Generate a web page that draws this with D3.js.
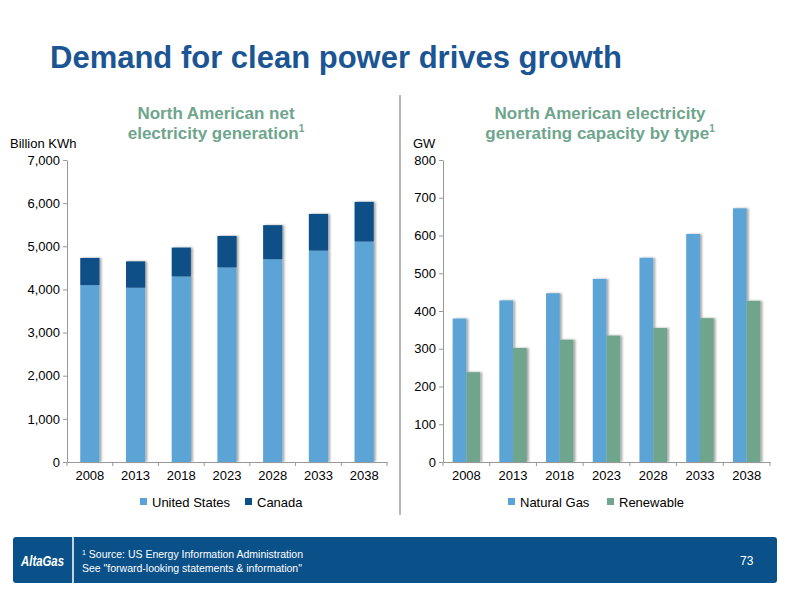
<!DOCTYPE html>
<html><head><meta charset="utf-8">
<script src="https://cdn.jsdelivr.net/npm/d3@7"></script>
<style>body{margin:0;background:#fff}text{font-family:"Liberation Sans",Arial,sans-serif}</style>
</head><body><svg id="c" width="800" height="600"></svg>
<script>
const years = ['2008','2013','2018','2023','2028','2033','2038']
const usGen = [4100, 4040, 4300, 4510, 4700, 4900, 5110]
const canadaGen = [630, 610, 670, 730, 790, 850, 920]
const natGas = [380, 428, 447, 485, 541, 604, 672]
const renewable = [238, 302, 324, 335, 355, 381, 427]
const genTicks = [0, 1000, 2000, 3000, 4000, 5000, 6000, 7000]
const capTicks = [0, 100, 200, 300, 400, 500, 600, 700, 800]

const svg = d3.select('#c')
const light = '#5ba3d6', dark = '#0b4f86', green = '#6fa58d', head = '#6fa58d'

svg.append('text').attr('x', 50).attr('y', 68).text('Demand for clean power drives growth')
  .attr('font-size', 31).attr('font-weight', 'bold').attr('fill', '#1b5593')

function subtitle(x, lines) {
  let t = svg.append('text').attr('text-anchor', 'middle').attr('font-size', 17)
    .attr('font-weight', 'bold').attr('fill', head)
  lines.forEach((l, i) => {
    t.append('tspan').attr('x', x).attr('y', 119 + i * 20).text(l)
  })
  t.append('tspan').text('1').attr('font-size', 10).attr('dy', -7)
}
subtitle(216, ['North American net', 'electricity generation'])
subtitle(600, ['North American electricity', 'generating capacity by type'])

svg.append('line').attr('x1', 400).attr('x2', 400).attr('y1', 95).attr('y2', 515)
  .attr('stroke', '#888').attr('stroke-width', 1.2)

let defs = svg.append('defs')
defs.append('filter').attr('id', 'sh').html('<feDropShadow dx="2" dy="0" stdDeviation="1" flood-color="#000" flood-opacity="0.35"/>')

function axes(x, y, ticks, fmt) {
  let ya = svg.append('g').attr('transform', `translate(${x.range()[0]},0)`)
    .call(d3.axisLeft(y).tickValues(ticks).tickFormat(fmt).tickSize(4).tickSizeOuter(0))
  let xa = svg.append('g').attr('transform', `translate(0,${y.range()[0]})`)
    .call(d3.axisBottom(x).tickSize(0).tickPadding(9))
  ;[ya, xa].forEach(a => {
    a.selectAll('path,line').attr('stroke', '#999')
    a.selectAll('text').attr('font-size', 13).attr('fill', '#000').attr('font-family', '"Liberation Sans",Arial,sans-serif')
  })
  // category tick marks
  let b = x.step()
  xa.selectAll('.sep').data(d3.range(years.length + 1)).enter().append('line')
    .attr('x1', i => x.range()[0] + i * b).attr('x2', i => x.range()[0] + i * b)
    .attr('y1', 0).attr('y2', 4).attr('stroke', '#999')
}

// left chart
const x1 = d3.scaleBand().domain(years).range([67, 387]).paddingInner(0.58).paddingOuter(0.29)
const y1 = d3.scaleLinear().domain([0, 7000]).range([462, 160])
const g1 = svg.append('g').attr('filter', 'url(#sh)')
g1.selectAll('.us').data(years).enter().append('rect')
  .attr('x', d => x1(d)).attr('width', x1.bandwidth())
  .attr('y', (d, i) => y1(usGen[i])).attr('height', (d, i) => y1(0) - y1(usGen[i])).attr('fill', light)
g1.selectAll('.ca').data(years).enter().append('rect')
  .attr('x', d => x1(d)).attr('width', x1.bandwidth())
  .attr('y', (d, i) => y1(usGen[i] + canadaGen[i])).attr('height', (d, i) => y1(usGen[i]) - y1(usGen[i] + canadaGen[i])).attr('fill', dark)
axes(x1, y1, genTicks, d3.format(','))
svg.append('text').attr('x', 10).attr('y', 148).text('Billion KWh').attr('font-size', 13)

// right chart
const x2 = d3.scaleBand().domain(years).range([443, 770])
const inner = d3.scaleBand().domain(['ng', 're']).range([0, x2.step()]).paddingInner(0).paddingOuter(0.7)
const y2 = d3.scaleLinear().domain([0, 800]).range([462, 160])
const g2 = svg.append('g').attr('filter', 'url(#sh)')
;[['ng', natGas, light], ['re', renewable, green]].forEach(([k, vals, col]) => {
  g2.selectAll('.' + k).data(years).enter().append('rect')
    .attr('x', d => x2(d) + inner(k)).attr('width', inner.bandwidth())
    .attr('y', (d, i) => y2(vals[i])).attr('height', (d, i) => y2(0) - y2(vals[i])).attr('fill', col)
})
axes(x2, y2, capTicks, d3.format('d'))
svg.append('text').attr('x', 413).attr('y', 148).text('GW').attr('font-size', 13)

// legends
function legend(items, x0) {
  items.forEach(([label, col, dx]) => {
    svg.append('rect').attr('x', x0 + dx).attr('y', 498).attr('width', 7).attr('height', 7).attr('fill', col)
    svg.append('text').attr('x', x0 + dx + 12).attr('y', 507).text(label).attr('font-size', 13)
  })
}
legend([['United States', light, 0], ['Canada', dark, 105]], 140)
legend([['Natural Gas', light, 0], ['Renewable', green, 99]], 508)

// footer
svg.append('rect').attr('x', 13).attr('y', 537).attr('width', 764).attr('height', 46).attr('rx', 3).attr('fill', '#0a5189')
svg.append('line').attr('x1', 73).attr('x2', 73).attr('y1', 537).attr('y2', 583).attr('stroke', '#fff').attr('stroke-width', 1.5)
svg.append('text').attr('x', 21).attr('y', 566).text('AltaGas').attr('fill', '#fff')
  .attr('font-size', 15).attr('font-weight', 'bold').attr('font-style', 'italic')
  .attr('textLength', 43).attr('lengthAdjust', 'spacingAndGlyphs')
let f = svg.append('text').attr('x', 82).attr('y', 558).attr('fill', '#fff').attr('font-size', 10.5)
f.append('tspan').text('1').attr('font-size', 7).attr('dy', -3)
f.append('tspan').text(' Source: US Energy Information Administration').attr('dy', 3)
svg.append('text').attr('x', 82).attr('y', 572).attr('fill', '#fff').attr('font-size', 10.5)
  .text('See "forward-looking statements & information"')
svg.append('text').attr('x', 740).attr('y', 565).attr('fill', '#fff').attr('font-size', 12).text('73')
</script></body></html>
